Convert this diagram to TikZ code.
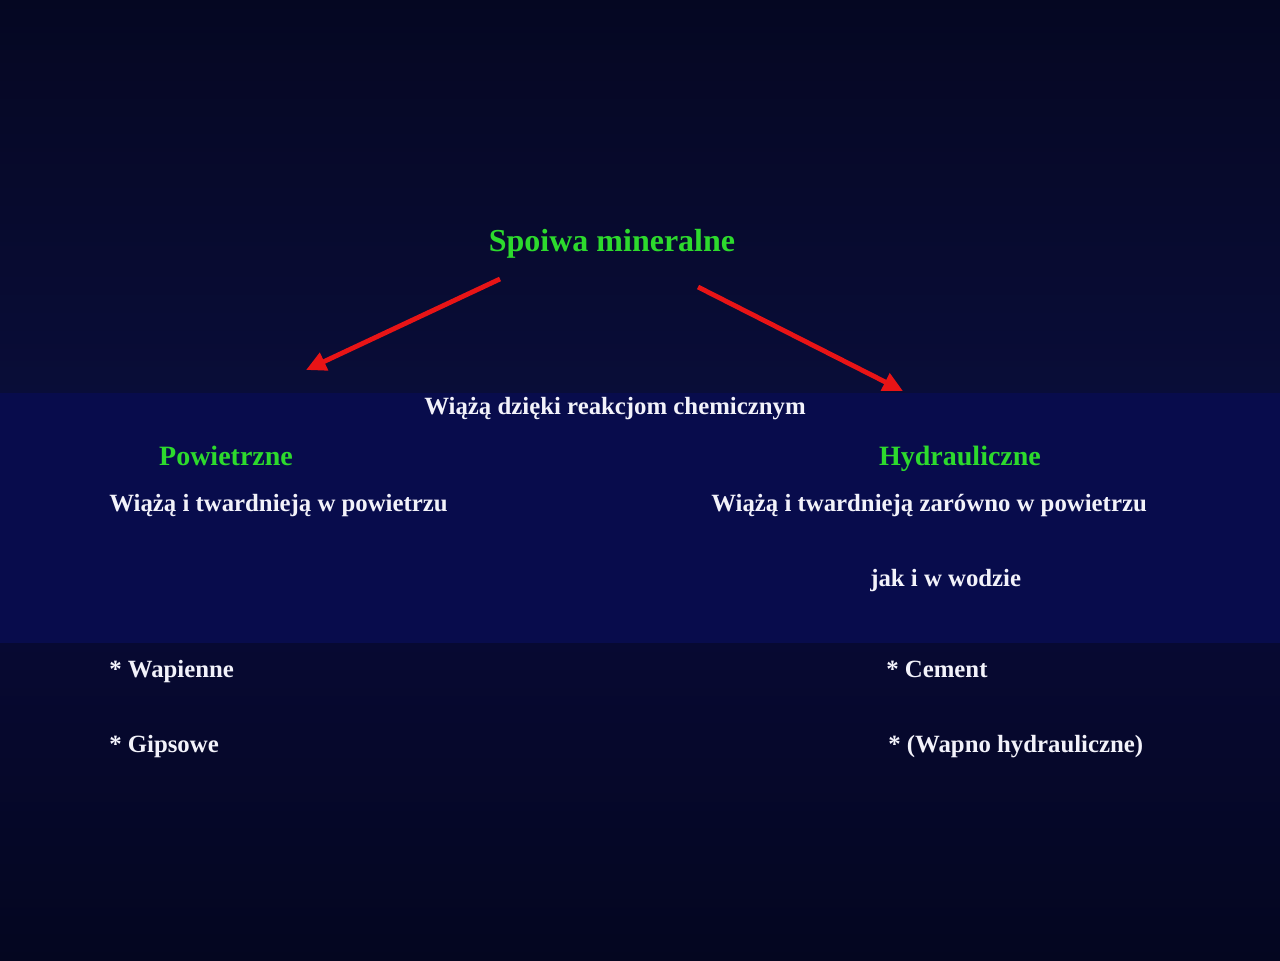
\documentclass[tikz,border=0pt]{standalone}
\usepackage{fontspec}
\setmainfont{Liberation Serif}
\usepackage{tikz}
\usetikzlibrary{arrows.meta, positioning}
\usepackage{xcolor}
\definecolor{tlogora}{RGB}{5,7,34}
\definecolor{tlogoradol}{RGB}{9,13,56}
\definecolor{tlosrodek}{RGB}{8,12,76}
\definecolor{tlodol}{RGB}{7,9,50}
\definecolor{tlokoniec}{RGB}{4,6,32}
\definecolor{zielony}{RGB}{45,218,45}
\definecolor{czerwony}{RGB}{232,20,22}
\definecolor{bialy}{RGB}{242,242,250}

\begin{document}
\begin{tikzpicture}[x=0.75pt, y=-0.75pt,
        naglowek/.style={text=zielony, font=\fontsize{21}{25}\selectfont\bfseries, inner sep=0pt},
        tekst/.style={text=bialy, font=\fontsize{18.6}{22}\selectfont\bfseries, inner sep=0pt},
        strzalka/.style={draw=czerwony, line width=3.6pt, -{Triangle[length=15pt, width=14pt]}}]
        % Background
        \useasboundingbox (0,0) rectangle (1280,960);
        \shade[top color=tlogora, bottom color=tlogoradol] (0,0) rectangle (1280,393);
        \fill[tlosrodek] (0,393) rectangle (1280,643);
        \shade[top color=tlodol, bottom color=tlokoniec] (0,643) rectangle (1280,960);
        % Title
        \node[naglowek, font=\fontsize{24}{28}\selectfont\bfseries, anchor=base] (spoiwa) at (612,251) {Spoiwa mineralne};
        % Arrows
        \coordinate (startL) at (500,279);
        \coordinate (koniecL) at (306,370);
        \coordinate (startR) at (698,287);
        \coordinate (koniecR) at (903,391);
        \draw[strzalka] (startL) -- (koniecL);
        \draw[strzalka] (startR) -- (koniecR);
        % Middle text
        \node[tekst, anchor=base] (chem) at (615,414) {Wiążą dzięki reakcjom chemicznym};
        % Left column
        \node[naglowek, anchor=base] (powietrzne) at (226,465) {Powietrzne};
        \node[tekst, anchor=base west] (powOpis) at (109,511) {Wiążą i twardnieją w powietrzu};
        \node[tekst, anchor=base west] (wapienne) at (109,677) {* Wapienne};
        \node[tekst, anchor=base west] (gipsowe) at (109,752) {* Gipsowe};
        % Right column
        \node[naglowek, anchor=base] (hydraul) at (960,465) {Hydrauliczne};
        \node[tekst, anchor=base west] (hydrOpis) at (711,511) {Wiążą i twardnieją zarówno w powietrzu};
        \node[tekst, anchor=base west] (woda) at (870,586) {jak i w wodzie};
        \node[tekst, anchor=base west] (cement) at (886,677) {* Cement};
        \node[tekst, anchor=base west] (wapno) at (888,752) {* (Wapno hydrauliczne)};
    \end{tikzpicture}
\end{document}
